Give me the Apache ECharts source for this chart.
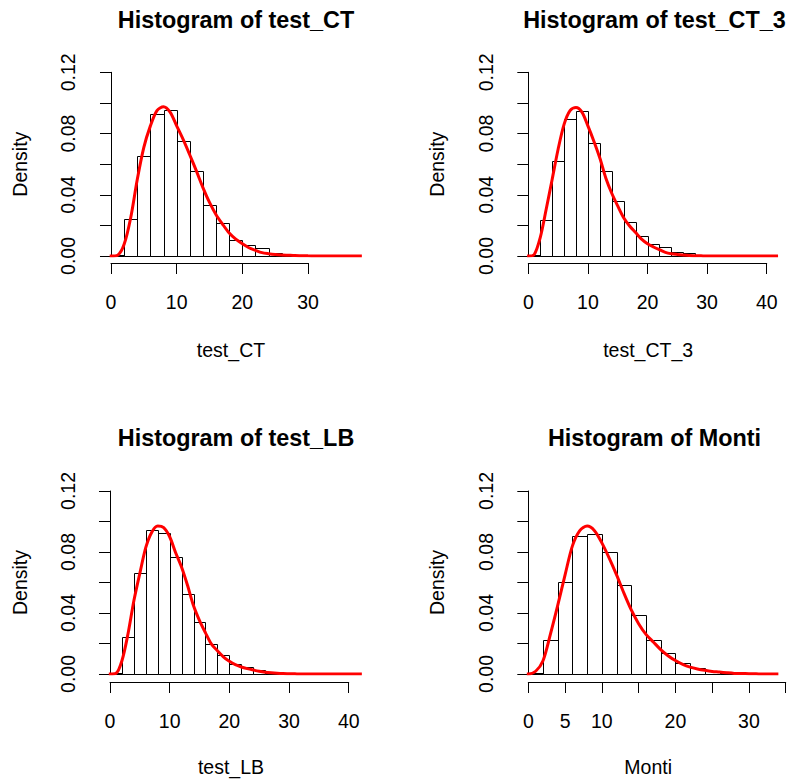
<!DOCTYPE html>
<html>
<head>
<meta charset="utf-8">
<script src="https://cdn.jsdelivr.net/npm/echarts@6/dist/echarts.min.js"></script>
<style>
html,body{margin:0;padding:0;background:#fff;}
#chart{width:791px;height:783px;}
</style>
</head>
<body>
<div id="chart"></div>
<script>
// ---------------- DATA ----------------
const titles = ['Histogram of test_CT', 'Histogram of test_CT_3', 'Histogram of test_LB', 'Histogram of Monti'];
const xNames = ['test_CT', 'test_CT_3', 'test_LB', 'Monti'];
const yName = 'Density';
const yTicks = [0, 0.02, 0.04, 0.06, 0.08, 0.10, 0.12];
const yTickLabels = ['0.00', '', '0.04', '', '0.08', '', '0.12'];

// histogram breaks and densities
const breaksCT = [0,2,4,6,8,10,12,14,16,18,20,22,24,26,28,30];
const densCT = [0.0009,0.0244,0.0656,0.0930,0.0956,0.0752,0.0556,0.0331,0.0213,0.0107,0.0074,0.0050,0.0017,0.0010,0.0006];
const breaksCT3 = [0,2,4,6,8,10,12,14,16,18,20,22,24,26,28];
const densCT3 = [0.0009,0.0233,0.0623,0.0898,0.0948,0.0741,0.0556,0.0359,0.0222,0.0133,0.0076,0.0059,0.0028,0.0017];
const breaksLB = [0,2,4,6,8,10,12,14,16,18,20,22,24,26,28,30];
const densLB = [0.0004,0.0244,0.0664,0.0946,0.0926,0.0769,0.0523,0.0338,0.0200,0.0124,0.0065,0.0046,0.0026,0.0005,0.0004];
const breaksMonti = [0,2,4,6,8,10,12,14,16,18,20,22,24,26,28,30];
const densMonti = [0.0007,0.0222,0.0603,0.0908,0.0919,0.0800,0.0582,0.0386,0.0222,0.0135,0.0074,0.0037,0.0017,0.0009,0.0004];

// kernel density curves
const kdeX_CT = [-0.2,0,1,2,3,4,5,6,7,8,9,10,11,12,13,14,15,16,17,18,19,20,21,22,23,24,25,26,27,28,29,30,31,32,34,36,38.2];
const kdeY_CT = [0,0,0.0005,0.0076,0.025,0.050,0.071,0.085,0.095,0.0975,0.094,0.085,0.076,0.066,0.0556,0.0447,0.035,0.027,0.0207,0.015,0.011,0.008,0.0054,0.0037,0.0022,0.0015,0.001,0.0007,0.0005,0.0003,0.0002,0.0001,0.00005,0,0,0,0];
const kdeX_CT3 = [-0.2,0,1,2,3,4,5,6,7,8,9,10,11,12,13,14,15,16,17,18,19,20,21,22,23,24,25,26,27,28,29,30,32,35,38,41.9];
const kdeY_CT3 = [0,0,0.001,0.012,0.0305,0.050,0.0697,0.086,0.095,0.097,0.094,0.085,0.075,0.064,0.051,0.041,0.0327,0.025,0.0196,0.0153,0.011,0.008,0.0059,0.0041,0.0024,0.0015,0.001,0.0006,0.0003,0.0002,0.0001,0,0,0,0,0];
const kdeX_LB = [-0.2,0,1,2,3,4,5,6,7,8,9,10,11,12,13,14,15,16,17,18,19,20,21,22,23,24,25,26,27,28,29,30,31,32,35,38,42.2];
const kdeY_LB = [0,0,0.0004,0.0087,0.026,0.048,0.066,0.083,0.093,0.097,0.096,0.090,0.0795,0.070,0.058,0.0447,0.035,0.027,0.0196,0.0153,0.0113,0.0083,0.0061,0.0046,0.0035,0.0026,0.0018,0.0012,0.0008,0.0005,0.0003,0.0002,0.0001,0,0,0,0];
const kdeX_Monti = [-0.2,0,1,2,3,4,5,6,7,8,9,10,11,12,13,14,15,16,17,18,19,20,21,22,23,24,25,26,27,28,29,30,31,32,34];
const kdeY_Monti = [0,0,0.0018,0.0087,0.026,0.045,0.065,0.084,0.094,0.097,0.094,0.086,0.076,0.065,0.053,0.042,0.033,0.026,0.021,0.016,0.012,0.0088,0.0063,0.0045,0.0033,0.0024,0.0017,0.0013,0.0008,0.0004,0.0003,0.0002,0.0001,0,0];

// x-axis ticks
const xTicksCT = [0,10,20,30];
const xTicksCT3 = [0,10,20,30,40];
const xTicksLB = [0,10,20,30,40];
const xTicksMonti = [0,5,10,15,20,25,30,35];
const xTickLabelsMonti = ['0','5','10','','20','','30',''];

// ---------------- LAYOUT (positions/styles only) ----------------
const FONT = '"Liberation Sans", Arial, Helvetica, sans-serif';
const LAB = 19.5, TIT = 23.4;
const panels = [
  {breaks: breaksCT, dens: densCT, kx: kdeX_CT, ky: kdeY_CT, ticks: xTicksCT, tickLabels: null,
   left: 100, right: 372, xMin: -1.675, xMax: 39.745, yTop: 72.3, yBot: 256, axisY: 263,
   titleX: 236, titleY: 20, nameY: 350, densX: 20},
  {breaks: breaksCT3, dens: densCT3, kx: kdeX_CT3, ky: kdeY_CT3, ticks: xTicksCT3, tickLabels: null,
   left: 518.3, right: 788, xMin: -1.678, xMax: 43.57, yTop: 72.3, yBot: 256, axisY: 263,
   titleX: 654.5, titleY: 20, nameY: 350, densX: 437},
  {breaks: breaksLB, dens: densLB, kx: kdeX_LB, ky: kdeY_LB, ticks: xTicksLB, tickLabels: null,
   left: 100, right: 372, xMin: -1.675, xMax: 43.9, yTop: 491, yBot: 674, axisY: 682,
   titleX: 236, titleY: 438, nameY: 767, densX: 20},
  {breaks: breaksMonti, dens: densMonti, kx: kdeX_Monti, ky: kdeY_Monti, ticks: xTicksMonti, tickLabels: xTickLabelsMonti,
   left: 518.3, right: 788, xMin: -1.36, xMax: 35.31, yTop: 491, yBot: 674, axisY: 682,
   titleX: 654.5, titleY: 438, nameY: 767, densX: 437}
];

const grid = [], xAxis = [], yAxis = [], series = [], graphic = [];
const black = '#000';

panels.forEach((p, i) => {
  const width = p.right - p.left;
  const px = v => p.left + (v - p.xMin) / (p.xMax - p.xMin) * width;
  const t0 = p.ticks[0], t1 = p.ticks[p.ticks.length - 1];
  const gMain = grid.length;
  grid.push({left: p.left, top: p.yTop, width: width, height: p.yBot - p.yTop});
  const gAx = grid.length;
  grid.push({left: px(t0), top: p.axisY - 1, width: px(t1) - px(t0), height: 1});

  xAxis.push({gridIndex: gMain, type: 'value', min: p.xMin, max: p.xMax, show: false});
  yAxis.push({gridIndex: gMain, type: 'value', min: yTicks[0], max: yTicks[yTicks.length - 1], interval: 0.02,
    axisLine: {show: true, lineStyle: {color: black, width: 1}},
    axisTick: {show: true, length: 11, lineStyle: {color: black, width: 1}},
    splitLine: {show: false},
    axisLabel: {show: true, rotate: 90, margin: 22, align: 'center', verticalAlign: 'bottom',
      color: black, fontSize: LAB, fontFamily: FONT,
      formatter: v => { const k = yTicks.findIndex(t => Math.abs(t - v) < 1e-9); return k >= 0 ? yTickLabels[k] : ''; }}
  });
  const step = p.ticks[1] - p.ticks[0];
  xAxis.push({gridIndex: gAx, type: 'value', min: t0, max: t1, interval: step,
    axisLine: {show: true, onZero: false, lineStyle: {color: black, width: 1}},
    axisTick: {show: true, length: 11, lineStyle: {color: black, width: 1}},
    splitLine: {show: false},
    axisLabel: {show: true, margin: 29, color: black, fontSize: LAB, fontFamily: FONT,
      formatter: v => { const k = p.ticks.findIndex(t => Math.abs(t - v) < 1e-9); if (k < 0) return ''; return p.tickLabels ? p.tickLabels[k] : String(p.ticks[k]); }}
  });
  yAxis.push({gridIndex: gAx, type: 'value', min: 0, max: 1, show: false});

  const barData = p.dens.map((d, k) => [p.breaks[k], p.breaks[k + 1], d]);
  series.push({
    type: 'custom', xAxisIndex: gMain, yAxisIndex: gMain, clip: false, z: 2,
    data: barData,
    renderItem: (params, api) => {
      const a = api.coord([api.value(0), api.value(2)]);
      const b = api.coord([api.value(1), 0]);
      const x0 = Math.round(a[0]) + 0.5, x1 = Math.round(b[0]) + 0.5;
      const y0 = Math.round(a[1]) + 0.5, y1 = Math.round(b[1]) + 0.5;
      return {type: 'rect', shape: {x: x0, y: y0, width: x1 - x0, height: y1 - y0},
        style: {fill: 'none', stroke: black, lineWidth: 1}};
    }
  });
  series.push({
    type: 'line', xAxisIndex: gMain, yAxisIndex: gMain, z: 3,
    data: p.kx.map((x, k) => [x, p.ky[k]]),
    showSymbol: false, symbol: 'none', smooth: 0.3,
    lineStyle: {color: '#ff0000', width: 3}
  });

  graphic.push({type: 'text', x: p.titleX, y: p.titleY,
    style: {text: titles[i], font: 'bold ' + TIT + 'px ' + FONT, fill: black, align: 'center', verticalAlign: 'middle'}});
  graphic.push({type: 'text', x: (p.left + p.right) / 2 - 5, y: p.nameY,
    style: {text: xNames[i], font: LAB + 'px ' + FONT, fill: black, align: 'center', verticalAlign: 'middle'}});
  graphic.push({type: 'text', x: p.densX, y: (p.yTop + p.yBot) / 2, rotation: Math.PI / 2,
    style: {text: yName, font: LAB + 'px ' + FONT, fill: black, align: 'center', verticalAlign: 'middle'}});
});

const chart = echarts.init(document.getElementById('chart'), null, {renderer: 'svg'});
chart.setOption({
  animation: false,
  backgroundColor: '#fff',
  grid, xAxis, yAxis, series, graphic
});
</script>
</body>
</html>
